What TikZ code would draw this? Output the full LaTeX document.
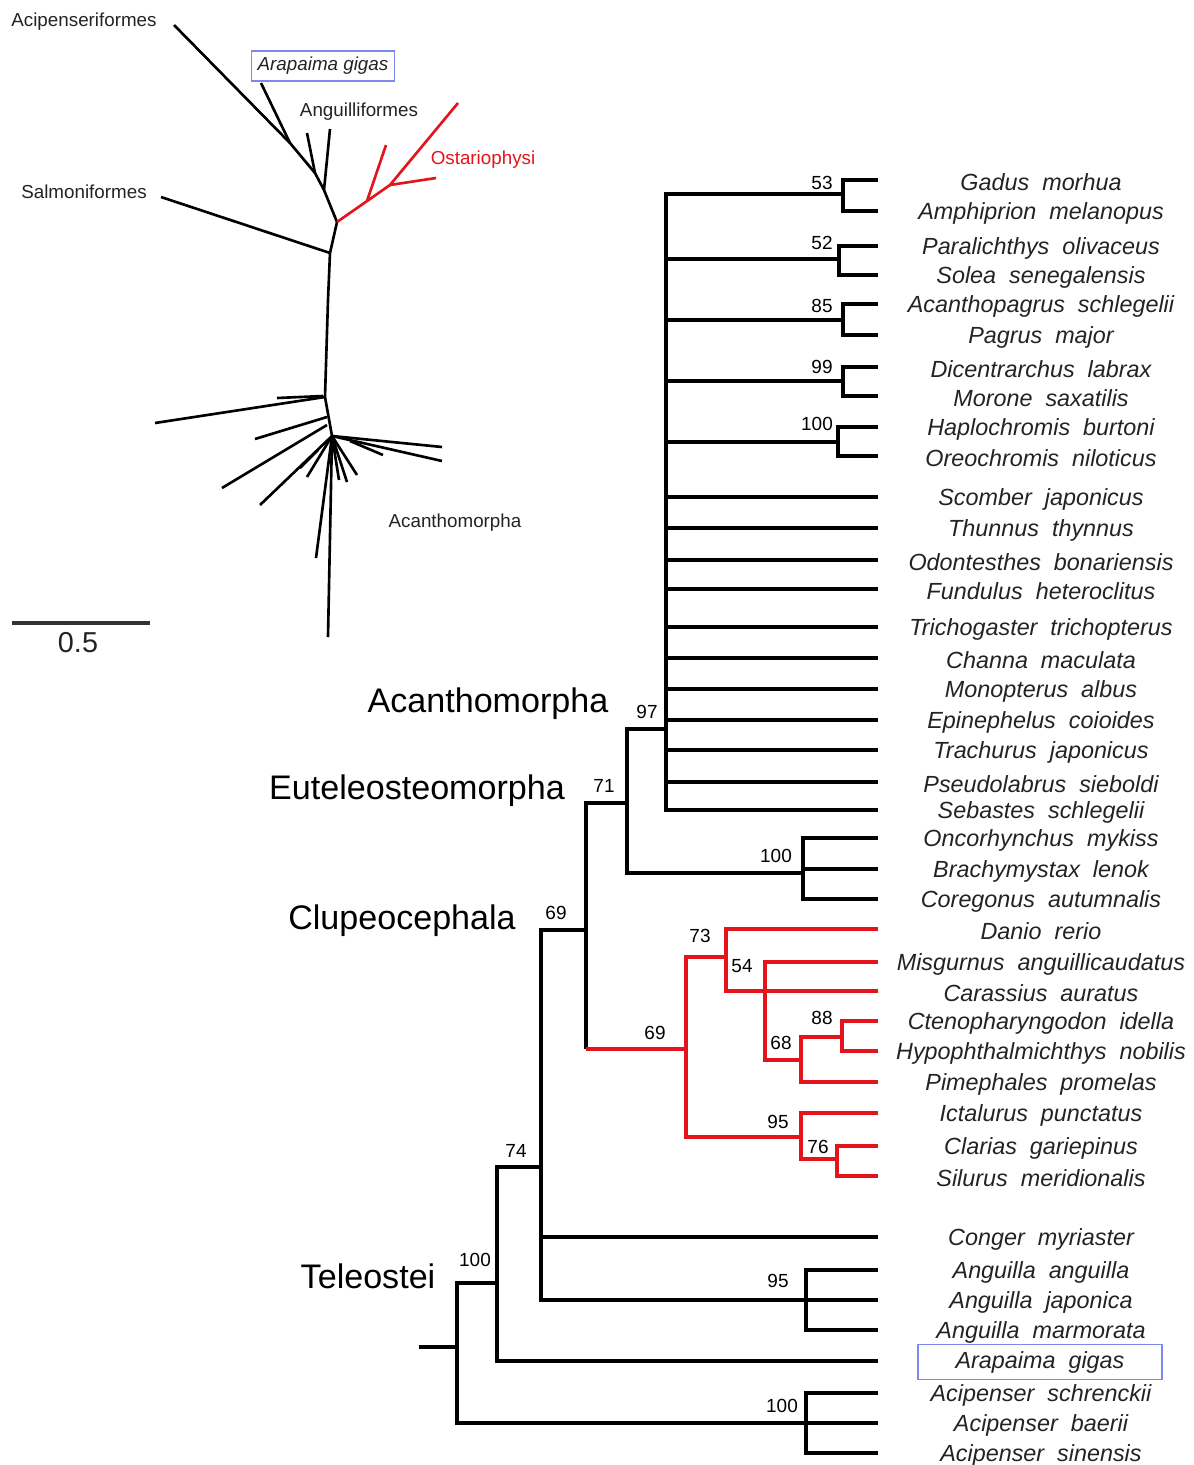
\documentclass[tikz,border=0pt]{standalone}
\usepackage{fontspec}
\setmainfont{Liberation Sans}
\usetikzlibrary{positioning}
\definecolor{ost-red}{HTML}{E3141B}
\definecolor{box-blue}{HTML}{7F88EE}
\definecolor{label-gray}{RGB}{35,35,35}

\begin{document}
\begin{tikzpicture}[x=0.02cm, y=-0.02cm,
 br/.style={line width=2pt},
 ubr/.style={line width=1.5pt},
 taxon/.style={font=\fontsize{13.3}{15}\selectfont\itshape, text=label-gray, inner sep=0pt},
 bs/.style={font=\fontsize{10.8}{12}\selectfont, inner sep=0pt},
 clade/.style={font=\fontsize{19.4}{22}\selectfont, inner sep=0pt},
 small/.style={font=\fontsize{10.7}{12}\selectfont, text=label-gray, inner sep=0pt},
]
 \useasboundingbox (0,0) rectangle (1194,1465);
 %
 % unrooted tree
 \coordinate (u-red) at (337,222);
 \coordinate (u-fork) at (390,185);
 \coordinate (u-sal) at (330,253);
 \coordinate (u-low) at (325,397);
 \coordinate (u-hub) at (332,436);
 \draw[ubr] (174,25) -- (290,143) -- (315,173) -- (324,190) -- (u-red) -- (u-sal) -- (328,300) -- (u-low) -- (u-hub);
 \draw[ubr] (290,143) -- (261,83);
 \draw[ubr] (315,173) -- (307,133);
 \draw[ubr] (324,190) -- (330,129);
 \draw[ubr] (u-sal) -- (161,197);
 \draw[ubr,ost-red] (u-red) -- (u-fork) -- (458,103);
 \draw[ubr,ost-red] (367,201) -- (386,145);
 \draw[ubr,ost-red] (u-fork) -- (436,178);
 \draw[ubr] (u-low) -- (155,423);
 \draw[ubr] (323,396) -- (277,398);
 \draw[ubr] (327,417) -- (255,439);
 \draw[ubr] (327,425) -- (222,488);
 \draw[ubr] (u-hub) -- (260,505);
 \draw[ubr] (u-hub) -- (307,477);
 \draw[ubr] (318,450) -- (300,468);
 \draw[ubr] (u-hub) -- (442,447);
 \draw[ubr] (u-hub) -- (442,461);
 \draw[ubr] (350,441) -- (383,455);
 \draw[ubr] (u-hub) -- (357,475);
 \draw[ubr] (u-hub) -- (347,482);
 \draw[ubr] (u-hub) -- (339,480);
 \draw[ubr] (u-hub) -- (328,637);
 \draw[ubr] (u-hub) -- (316,558);
 \node[small] (u-acip) at (84,22) {Acipenseriformes};
 \node[small, font=\fontsize{10.7}{12}\selectfont\itshape, draw=box-blue, line width=0.8pt,
  minimum width=2.86cm, minimum height=0.6cm] (u-ara) at (323,66) {Arapaima gigas};
 \node[small] (u-ang) at (359,112) {Anguilliformes};
 \node[small, text=ost-red] (u-ost) at (483,160) {Ostariophysi};
 \node[small] (u-salm) at (84,192) {Salmoniformes};
 \node[small] (u-acan) at (455,523) {Acanthomorpha};
 %
 % scale bar
 \coordinate (sb-a) at (12,623);
 \coordinate (sb-b) at (150,623);
 \draw[line width=1.8pt, black!80] (sb-a) -- (sb-b);
 \node[font=\fontsize{16.4}{18}\selectfont, text=label-gray] (sb-l) at (78,643) {0.5};
 %
 % tips
 \foreach \n/\y/\t in {gad/180/Gadus~~morhua, amp/211/Amphiprion~~melanopus,
  par/246/Paralichthys~~olivaceus, sol/275/Solea~~senegalensis,
  aca/304/Acanthopagrus~~schlegelii, pag/335/Pagrus~~major,
  dic/367/Dicentrarchus~~labrax, mor/396/Morone~~saxatilis,
  hap/427/Haplochromis~~burtoni, ore/456/Oreochromis~~niloticus,
  sco/497/Scomber~~japonicus, thu/528/Thunnus~~thynnus,
  odo/560/Odontesthes~~bonariensis, fun/589/Fundulus~~heteroclitus,
  tri/627/Trichogaster~~trichopterus, cha/658/Channa~~maculata,
  mon/689/Monopterus~~albus, epi/720/Epinephelus~~coioides,
  tra/750/Trachurus~~japonicus, pse/782/Pseudolabrus~~sieboldi,
  seb/810/Sebastes~~schlegelii, onc/838/Oncorhynchus~~mykiss,
  bra/869/Brachymystax~~lenok, cor/899/Coregonus~~autumnalis,
  dan/929/Danio~~rerio, mis/962/Misgurnus~~anguillicaudatus,
  car/991/Carassius~~auratus, cte/1021/Ctenopharyngodon~~idella,
  hyp/1051/Hypophthalmichthys~~nobilis, pim/1082/Pimephales~~promelas,
  ict/1113/Ictalurus~~punctatus, cla/1146/Clarias~~gariepinus,
  sil/1176/Silurus~~meridionalis, con/1237/Conger~~myriaster,
  aan/1270/Anguilla~~anguilla, aja/1300/Anguilla~~japonica,
  ama/1330/Anguilla~~marmorata, asc/1393/Acipenser~~schrenckii,
  aba/1423/Acipenser~~baerii, asi/1453/Acipenser~~sinensis}{
  \coordinate (\n) at (878,\y);
  \node[taxon] (\n-l) at (1041,\y+2) {\t};
 }
 \coordinate (ara) at (878,1361);
 \node[taxon, draw=box-blue, line width=1.1pt, minimum width=4.88cm, minimum height=0.7cm]
  (ara-l) at (1040,1362) {Arapaima~~gigas};
 %
 % internal nodes
 \coordinate (stub) at (419,1347);
 \coordinate (root) at (457,1347);
 \coordinate (tel) at (497,1283);
 \coordinate (aci) at (806,1423);
 \coordinate (n74) at (541,1167);
 \coordinate (clu) at (586,930);
 \coordinate (ost-base) at (586,1049);
 \coordinate (ang) at (806,1300);
 \coordinate (eut) at (627,803);
 \coordinate (ost) at (686,1049);
 \coordinate (n97) at (666,729);
 \coordinate (sal) at (803,873);
 \coordinate (p53) at (843,194);
 \coordinate (p52) at (839,259);
 \coordinate (p85) at (843,320);
 \coordinate (p99) at (843,381);
 \coordinate (p100) at (838,442);
 \coordinate (n73) at (726,957);
 \coordinate (n54) at (765,991);
 \coordinate (n68) at (801,1060);
 \coordinate (n88) at (842,1037);
 \coordinate (n95) at (801,1137);
 \coordinate (n76) at (837,1159);
 %
 % branches
 \draw[br] (stub) -- (root);
 \foreach \p/\c in {root/tel, root/aci, tel/n74, tel/ara, n74/clu, n74/con, n74/ang,
  clu/eut, clu/ost-base, eut/n97, eut/sal, n97/p53, n97/p52, n97/p85, n97/p99, n97/p100,
  n97/sco, n97/thu, n97/odo, n97/fun, n97/tri, n97/cha, n97/mon, n97/epi,
  n97/tra, n97/pse, n97/seb, p53/gad, p53/amp, p52/par, p52/sol, p85/aca,
  p85/pag, p99/dic, p99/mor, p100/hap, p100/ore, sal/onc, sal/bra, sal/cor,
  ang/aan, ang/aja, ang/ama, aci/asc, aci/aba, aci/asi}
  \draw[br] (\p) |- (\c);
 \foreach \p/\c in {ost-base/ost, ost/n73, ost/n95, n73/dan, n73/n54, n54/mis,
  n54/car, n54/n68, n68/n88, n68/pim, n88/cte, n88/hyp, n95/ict, n95/n76,
  n76/cla, n76/sil}
  \draw[br, ost-red] (\p) |- (\c);
 %
 % bootstrap values
 \node[bs] (b53) at (822,183) {53};
 \node[bs] (b52) at (822,243) {52};
 \node[bs] (b85) at (822,306) {85};
 \node[bs] (b99) at (822,367) {99};
 \node[bs] (b100a) at (817,424) {100};
 \node[bs] (b97) at (647,712) {97};
 \node[bs] (b71) at (604,786) {71};
 \node[bs] (b100b) at (776,856) {100};
 \node[bs] (b69a) at (556,913) {69};
 \node[bs] (b73) at (700,936) {73};
 \node[bs] (b54) at (742,966) {54};
 \node[bs] (b69b) at (655,1033) {69};
 \node[bs] (b88) at (822,1018) {88};
 \node[bs] (b68) at (781,1043) {68};
 \node[bs] (b95a) at (778,1122) {95};
 \node[bs] (b76) at (818,1147) {76};
 \node[bs] (b74) at (516,1151) {74};
 \node[bs] (b100c) at (475,1260) {100};
 \node[bs] (b95b) at (778,1281) {95};
 \node[bs] (b100d) at (782,1406) {100};
 %
 % clade names
 \node[clade] (c-acan) at (488,704) {Acanthomorpha};
 \node[clade] (c-eut) at (417,791) {Euteleosteomorpha};
 \node[clade] (c-clu) at (402,921) {Clupeocephala};
 \node[clade] (c-tel) at (368,1276) {Teleostei};
\end{tikzpicture}
\end{document}
